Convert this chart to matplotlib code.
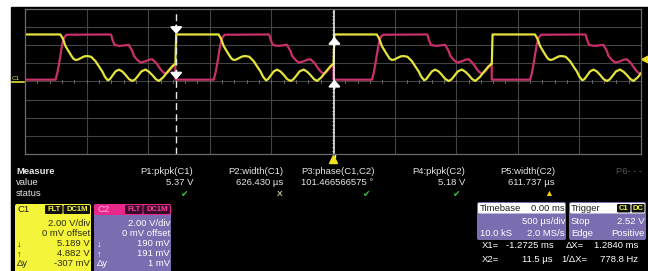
import numpy as np
import matplotlib.pyplot as plt
from matplotlib.patches import Rectangle, FancyBboxPatch

plt.rcParams['font.family'] = ['Liberation Sans', 'DejaVu Sans']

# one period of each trace: time (us) from the C1 rising edge, volts
c1_t = [0, 6, 350, 370, 392, 433, 455, 474, 494, 514, 545, 570, 600, 636, 665,
        690, 712, 735, 752, 771, 798, 825, 852, 880, 907, 934, 955, 974, 1008,
        1041, 1070, 1096, 1125, 1150, 1185, 1217, 1258, 1280]
c1_v = [1.9, 5.15, 5.15, 4.7, 3.87, 2.95, 2.5, 2.35, 2.4, 2.55, 2.75, 2.78, 2.7,
        2.21, 1.6, 1.1, 0.5, 0.12, 0.25, 0.6, 1.1, 1.29, 1.1, 0.7, 0.25, 0.05,
        0.2, 0.5, 1.1, 1.3, 1.05, 0.7, 0.25, 0.05, 0.45, 1.0, 1.66, 1.9]
c2_t = [0, 311, 325, 338, 352, 365, 380, 400, 758, 765, 772, 790, 830, 870, 905,
        935, 947, 975, 1001, 1040, 1070, 1096, 1130, 1163, 1185, 1204, 1224, 1244,
        1270, 1283]
c2_v = [0.19, 0.19, 0.9, 1.84, 3.0, 4.05, 4.8, 5.12, 5.15, 5.0, 4.6, 4.0, 3.9,
        3.95, 4.02, 3.3, 2.8, 2.35, 2.07, 2.2, 2.38, 2.43, 2.0, 1.33, 1.0, 0.85,
        1.0, 1.33, 1.75, 1.75]
# C1 rising edges on screen (us)
edges = [-2563, -1279, 5, 1289]

# cursors
x1_t, x2_t = -1272.5, 11.5
x1_lv = [5.189, 0.190]
x2_lv = [4.882, 0.191]

meas_names = ['P1:pkpk(C1)', 'P2:width(C1)', 'P3:phase(C1,C2)', 'P4:pkpk(C2)', 'P5:width(C2)']
meas_vals = ['5.37 V', '626.430 µs', '101.466566575 °', '5.18 V', '611.737 µs']
meas_stat = ['ok', 'x', 'ok', 'ok', 'warn']

c1_lines = ['2.00 V/div', '0 mV offset', '5.189 V', '4.882 V', '-307 mV']
c2_lines = ['2.00 V/div', '0 mV offset', '190 mV', '191 mV', '1 mV']
row_marks = ['', '', '↓', '↑', 'Δy']

YEL = '#e4e43c'
PINK = '#c8306c'
LAV = '#7b6db0'
TXT = '#e6e6e6'

fig = plt.figure(figsize=(6.48, 2.71), dpi=100)
bg = fig.add_axes([0, 0, 1, 1])
bg.set_xlim(0, 648)
bg.set_ylim(271, 0)
bg.axis('off')
bg.add_patch(Rectangle((11, 7), 637, 264, color='black'))

# ---- scope screen
sc = fig.add_axes([25 / 648, (271 - 154.3) / 271, 616 / 648, (154.3 - 8.5) / 271])
sc.set_facecolor('black')
sc.set_xlim(-2500, 2500)
sc.set_ylim(-8, 8)
sc.set_xticks([])
sc.set_yticks([])
for s in sc.spines.values():
    s.set_color('#6a6a6a')
    s.set_linewidth(0.9)
for x in np.arange(-2000, 2500, 500):
    sc.axvline(x, color='#444444', lw=0.8)
for y in np.arange(-6, 8, 2):
    sc.axhline(y, color='#444444', lw=0.8)
for x in np.arange(-2400, 2500, 100):
    sc.plot([x, x], [-0.15, 0.15], color='#666666', lw=0.7)
for y in np.arange(-7.6, 8, 0.4):
    sc.plot([-12, 12], [y, y], color='#666666', lw=0.7)

t1 = np.concatenate([e + np.array(c1_t) for e in edges])
v1 = np.concatenate([np.array(c1_v) for e in edges])
t2 = np.concatenate([e + np.array(c2_t) for e in edges])
v2 = np.concatenate([np.array(c2_v) for e in edges])
sc.plot(t2, v2, color=PINK, lw=1.6, solid_joinstyle='round')
sc.plot(t1, v1, color=YEL, lw=1.6, solid_joinstyle='round')

sc.axvline(x1_t, color='#e8e8e8', lw=1.0, ls=(0, (5, 3)))
sc.axvline(x2_t, color='#f0f0f0', lw=1.1)
arr = dict(arrowstyle='-|>,head_width=0.35,head_length=0.4', color='white',
           lw=1.4, mutation_scale=10, shrinkA=0, shrinkB=0)
for lv in x1_lv:
    sc.annotate('', xy=(x1_t, lv), xytext=(x1_t, lv + 0.95), arrowprops=arr)
for lv in x2_lv:
    sc.annotate('', xy=(x2_t, lv), xytext=(x2_t, lv - 0.95), arrowprops=arr)

# markers around the screen
bg.plot([334.5, 334.5], [154, 157], color='white', lw=1)
bg.plot(333, 158.5, marker='^', color='#f0e020', ms=5.5)
bg.plot(645, 58.5, marker='<', color='#f0e020', ms=5.5)
bg.text(12, 78.5, 'C1', color=YEL, fontsize=4.5, va='center', ha='left')
bg.plot([12, 24], [81.5, 81.5], color=YEL, lw=1.2)
bg.text(640, 16, 'LeCroy', color='#2424ff', fontsize=8.6, ha='right', va='center')
bg.plot([599, 640], [22.5, 22.5], color='#2424ff', lw=0.8)

# ---- measurement table
fs = 6.8
bg.text(16, 171.5, 'Measure', color=TXT, fontsize=fs, fontweight='bold', va='center')
bg.text(16, 182.5, 'value', color=TXT, fontsize=fs, va='center')
bg.text(16, 194, 'status', color=TXT, fontsize=fs, va='center')
col_r = [193, 283, 375, 465, 555]
for name, val, st, xr in zip(meas_names, meas_vals, meas_stat, col_r):
    bg.text(xr, 171.5, name, color=TXT, fontsize=fs, ha='right', va='center')
    bg.text(xr - (2 if '°' in val else 0), 182.5, val, color=TXT, fontsize=fs,
            ha='right', va='center')
    if st == 'ok':
        bg.text(xr - 8, 194, '✔', color='#3cc83c', fontsize=6.5, ha='center', va='center')
    elif st == 'x':
        bg.text(xr - 3, 194, 'X', color='#c8c890', fontsize=6, ha='center',
                va='center', fontweight='bold')
    else:
        bg.text(xr - 6, 194, '▲', color='#f0d000', fontsize=6.5, ha='center', va='center')
bg.text(616, 171.5, 'P6- - -', color='#555555', fontsize=fs, va='center')


def box(x0, y0, x1, y1, fc, r=2):
    bg.add_patch(FancyBboxPatch((x0, y0), x1 - x0, y1 - y0,
                                boxstyle=f'round,pad=0,rounding_size={r}',
                                fc=fc, ec='none'))


# C1 / C2 channel boxes
box(15, 204, 91, 280, '#f4f43a')
bg.text(18, 209.5, 'C1', color='#202010', fontsize=fs, va='center')
box(45, 205, 62.5, 214, '#101010', 1.2)
box(63.5, 205, 90, 214, '#101010', 1.2)
bg.text(53.7, 209.7, 'FLT', color='#f4f43a', fontsize=5.5, fontweight='bold', ha='center', va='center')
bg.text(76.8, 209.7, 'DC1M', color='#f4f43a', fontsize=5.5, fontweight='bold', ha='center', va='center')

box(94, 204, 171, 280, LAV)
box(94, 204, 171, 215, '#e8288a')
bg.text(97, 209.5, 'C2', color='#ffb8dc', fontsize=fs, va='center')
box(125, 205, 142.5, 214, '#3a0c2c', 1.2)
box(143.5, 205, 170, 214, '#3a0c2c', 1.2)
bg.text(133.7, 209.7, 'FLT', color='#ff3c9c', fontsize=5.5, fontweight='bold', ha='center', va='center')
bg.text(156.8, 209.7, 'DC1M', color='#ff3c9c', fontsize=5.5, fontweight='bold', ha='center', va='center')

for i, (a, b, m) in enumerate(zip(c1_lines, c2_lines, row_marks)):
    y = 224 + 10 * i
    bg.text(90, y, a, color='#2a2a12', fontsize=fs, ha='right', va='center')
    bg.text(170, y, b, color='white', fontsize=fs, ha='right', va='center')
    if m:
        bg.text(17, y, m, color='#2a2a12', fontsize=fs, va='center')
        bg.text(97, y, m, color='white', fontsize=fs, va='center')

# Timebase / Trigger boxes
box(477, 202, 566, 240, LAV)
box(478, 203, 565, 213.5, 'white', 1.5)
bg.text(480, 208.3, 'Timebase', color='#202020', fontsize=fs, va='center')
bg.text(565, 208.3, '0.00 ms', color='#202020', fontsize=fs, ha='right', va='center')
bg.text(565, 222, '500 µs/div', color='white', fontsize=fs, ha='right', va='center')
bg.text(480, 233, '10.0 kS', color='white', fontsize=fs, va='center')
bg.text(565, 233, '2.0 MS/s', color='white', fontsize=fs, ha='right', va='center')

box(569, 202, 646, 240, LAV)
box(570, 203, 645, 213.5, 'white', 1.5)
bg.text(571, 208.3, 'Trigger', color='#202020', fontsize=fs, va='center')
box(617, 204, 630.5, 212.5, '#101010', 1.2)
box(631.5, 204, 644.5, 212.5, '#101010', 1.2)
bg.text(623.7, 208.5, 'C1', color='#f4f43a', fontsize=5.5, fontweight='bold', ha='center', va='center')
bg.text(638, 208.5, 'DC', color='#f4f43a', fontsize=5.5, fontweight='bold', ha='center', va='center')
bg.text(571, 222, 'Stop', color='white', fontsize=fs, va='center')
bg.text(645, 222, '2.52 V', color='white', fontsize=fs, ha='right', va='center')
bg.text(571, 233, 'Edge', color='white', fontsize=fs, va='center')
bg.text(645, 233, 'Positive', color='white', fontsize=fs, ha='right', va='center')

# cursor readouts
bg.text(482, 246, 'X1=', color='white', fontsize=fs, va='center')
bg.text(554, 246, '-1.2725 ms', color='white', fontsize=fs, ha='right', va='center')
bg.text(566, 246, 'ΔX=', color='white', fontsize=fs, va='center')
bg.text(638, 246, '1.2840 ms', color='white', fontsize=fs, ha='right', va='center')
bg.text(482, 259, 'X2=', color='white', fontsize=fs, va='center')
bg.text(553, 259, '11.5 µs', color='white', fontsize=fs, ha='right', va='center')
bg.text(561, 259, '1/ΔX=', color='white', fontsize=fs, va='center')
bg.text(638, 259, '778.8 Hz', color='white', fontsize=fs, ha='right', va='center')

fig.savefig('out.png', dpi=100, facecolor='white')
